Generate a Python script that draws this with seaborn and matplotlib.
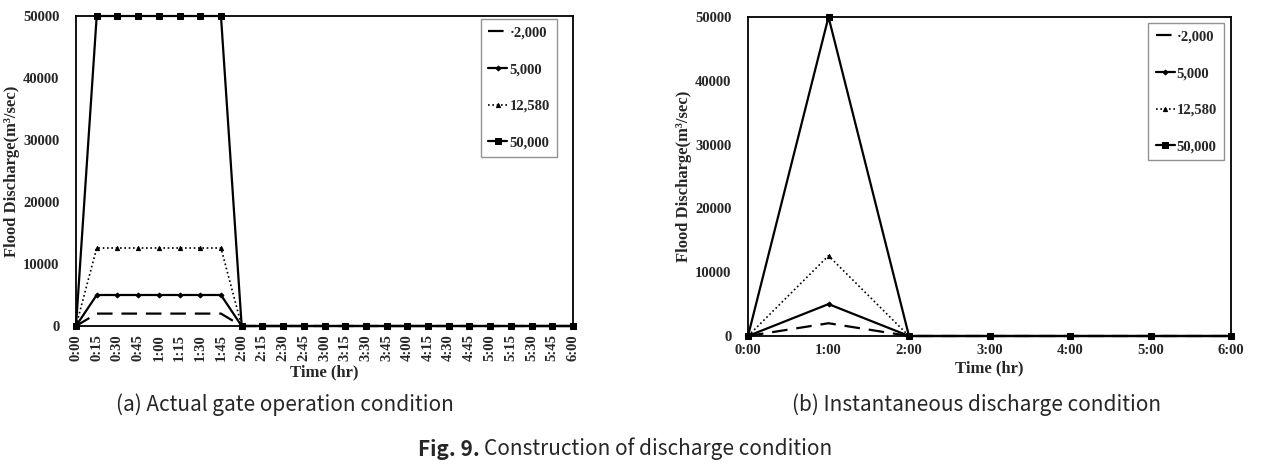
import matplotlib
matplotlib.use("Agg")
import matplotlib.pyplot as plt
import seaborn as sns
import pandas as pd

sns.set_style("white")
plt.rcParams['font.family'] = ['Liberation Serif', 'DejaVu Serif']
plt.rcParams['font.weight'] = 'bold'

# ---- data ----
times_a = ["0:00", "0:15", "0:30", "0:45", "1:00", "1:15", "1:30", "1:45", "2:00",
           "2:15", "2:30", "2:45", "3:00", "3:15", "3:30", "3:45", "4:00", "4:15",
           "4:30", "4:45", "5:00", "5:15", "5:30", "5:45", "6:00"]
a_2000 = [0, 2000, 2000, 2000, 2000, 2000, 2000, 2000, 0, 0, 0, 0, 0, 0, 0, 0, 0, 0, 0, 0, 0, 0, 0, 0, 0]
a_5000 = [0, 5000, 5000, 5000, 5000, 5000, 5000, 5000, 0, 0, 0, 0, 0, 0, 0, 0, 0, 0, 0, 0, 0, 0, 0, 0, 0]
a_12580 = [0, 12580, 12580, 12580, 12580, 12580, 12580, 12580, 0, 0, 0, 0, 0, 0, 0, 0, 0, 0, 0, 0, 0, 0, 0, 0, 0]
a_50000 = [0, 50000, 50000, 50000, 50000, 50000, 50000, 50000, 0, 0, 0, 0, 0, 0, 0, 0, 0, 0, 0, 0, 0, 0, 0, 0, 0]

times_b = ["0:00", "1:00", "2:00", "3:00", "4:00", "5:00", "6:00"]
b_2000 = [0, 2000, 0, 0, 0, 0, 0]
b_5000 = [0, 5000, 0, 0, 0, 0, 0]
b_12580 = [0, 12580, 0, 0, 0, 0, 0]
b_50000 = [0, 50000, 0, 0, 0, 0, 0]

labels = ["\u00b72,000", "5,000", "12,580", "50,000"]
yticks = [0, 10000, 20000, 30000, 40000, 50000]

styles = [
    dict(linestyle=(0, (7, 4)), marker=None),
    dict(linestyle='-', marker='D', markersize=2.5),
    dict(linestyle=(0, (1, 1.6)), marker='^', markersize=3, linewidth=1.2),
    dict(linestyle='-', marker='s', markersize=4),
]

fig = plt.figure(figsize=(12.63, 4.65), dpi=100)
ax1 = fig.add_axes([76/1263, 1-326/465, 497/1263, 310/465])
ax2 = fig.add_axes([748/1263, 1-336/465, 483/1263, 319/465])


def draw(ax, times, series, rot, leg_anchor):
    x = list(range(len(times)))
    for vals, lab, st in zip(series, labels, styles):
        df = pd.DataFrame({"t": x, "q": vals})
        kw = dict(color='black', linewidth=1.6)
        kw.update(st)
        sns.lineplot(data=df, x="t", y="q", ax=ax, label=lab, clip_on=False,
                     markeredgecolor='black', markerfacecolor='black', **kw)
    ax.set_xlim(0, len(times) - 1)
    ax.set_ylim(0, 50000)
    ax.set_xticks(x)
    ax.set_xticklabels(times, rotation=rot, fontsize=10.5, fontweight='bold')
    ax.set_yticks(yticks)
    ax.set_yticklabels([str(v) for v in yticks], fontsize=10.5, fontweight='bold')
    ax.tick_params(axis='x', length=0, pad=6)
    ax.tick_params(axis='y', length=0, pad=12)
    for s in ax.spines.values():
        s.set_color('black')
        s.set_linewidth(1.3)
        s.set_visible(True)
    ax.set_xlabel("Time (hr)", fontsize=12, fontweight='bold', labelpad=2)
    ax.set_ylabel("Flood Discharge(m\u00b3/sec)", fontsize=12, fontweight='bold', labelpad=2)
    leg = ax.legend(loc='upper right', bbox_to_anchor=leg_anchor, frameon=True,
                    fancybox=False, edgecolor='#777777', handlelength=1.3,
                    handletextpad=0.15, labelspacing=1.6, borderpad=0.5,
                    borderaxespad=0,
                    prop=dict(family='Liberation Serif', weight='bold', size=10.5))
    leg.get_frame().set_linewidth(1.0)


draw(ax1, times_a, [a_2000, a_5000, a_12580, a_50000], 90, (0.968, 0.99))
draw(ax2, times_b, [b_2000, b_5000, b_12580, b_50000], 0, (0.986, 0.981))

cap_font = ['Noto Sans CJK KR', 'DejaVu Sans']
cap_size = 15
fig.text(285/1263, 1-405/465, "(a) Actual gate operation condition", ha='center', va='center',
         fontsize=cap_size, fontweight='normal', family=cap_font)
fig.text(977/1263, 1-405/465, "(b) Instantaneous discharge condition", ha='center', va='center',
         fontsize=cap_size, fontweight='normal', family=cap_font)
t1 = fig.text(0, 1-449/465, "Fig. 9. ", ha='left', va='center', fontsize=cap_size,
              fontweight='bold', family=cap_font)
t2 = fig.text(0, 1-449/465, "Construction of discharge condition", ha='left', va='center',
              fontsize=cap_size, fontweight='normal', family=cap_font)
fig.canvas.draw()
r = fig.canvas.get_renderer()
w1 = t1.get_window_extent(r).width
w2 = t2.get_window_extent(r).width
cx = 625
start = cx - (w1 + w2) / 2
t1.set_x(start / 1263)
t2.set_x((start + w1) / 1263)

fig.savefig("out.png", dpi=100)
